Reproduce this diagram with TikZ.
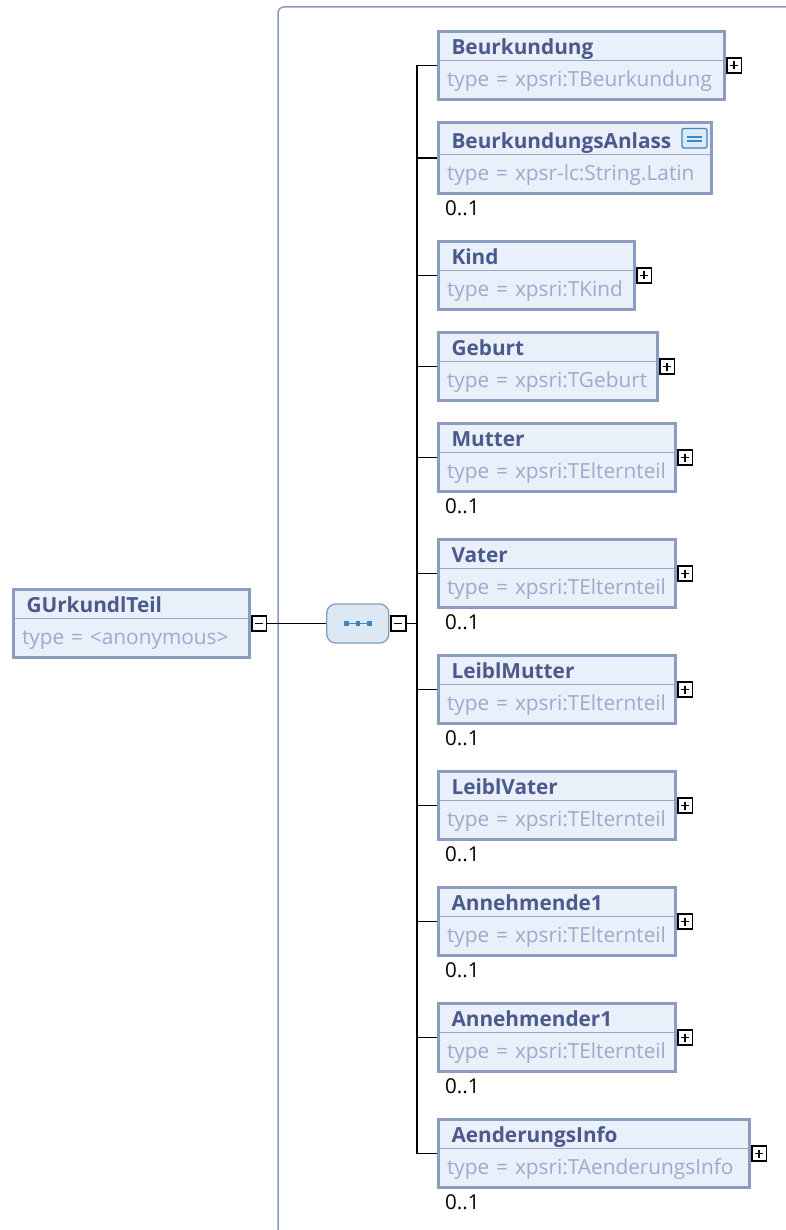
\documentclass[tikz,border=0pt]{standalone}
\usepackage{fontspec}
\setmainfont{Open Sans}
\usetikzlibrary{positioning}
\definecolor{xsBorder}{HTML}{8C9CC0}
\definecolor{xsFill}{HTML}{EAF0FA}
\definecolor{xsTitle}{HTML}{4B5A8C}
\definecolor{xsType}{HTML}{9DAACB}
\definecolor{xsSplit}{HTML}{9AA8C8}
\definecolor{xsSeqFill}{HTML}{DDE8F5}
\definecolor{xsSeqBorder}{HTML}{7F9DC0}
\definecolor{xsIcon}{HTML}{3F86C0}
\definecolor{xsDocFill}{HTML}{DCE9F6}
\newcommand{\eltitle}[1]{\hspace*{4.5pt}{\bfseries\color{xsTitle}#1}}

\begin{document}
\begin{tikzpicture}[
    x=1pt, y=-1pt,
    elem/.style={draw=xsBorder, line width=3pt, fill=xsFill, align=left, inner xsep=8.5pt, inner ysep=8.8pt, text height=14pt, text depth=36.4pt, text=xsType, font=\fontsize{20.8}{32.2}\selectfont,
        path picture={\draw[xsSplit, line width=1.5pt] ([yshift=38.8pt]path picture bounding box.south west) -- ([yshift=38.8pt]path picture bounding box.south east);}},
    expander/.style={draw=black, line width=1.6pt, fill=white, minimum size=14.5pt, inner sep=0pt},
    minus/.style={expander, path picture={\draw[line width=1.6pt] ([xshift=-4pt]path picture bounding box.center) -- ([xshift=4pt]path picture bounding box.center);}},
    plus/.style={expander, path picture={\draw[line width=1.6pt] ([xshift=-4pt]path picture bounding box.center) -- ([xshift=4pt]path picture bounding box.center) ([yshift=-4pt]path picture bounding box.center) -- ([yshift=4pt]path picture bounding box.center);}},
    seq/.style={draw=xsSeqBorder, line width=1.3pt, fill=xsSeqFill, rounded corners=9pt, minimum width=62pt, minimum height=39pt},
    card/.style={anchor=base west, inner sep=0pt, font=\fontsize{20.5}{24}\selectfont},
    conn/.style={draw=black, line width=1.6pt},
    frame/.style={draw=xsBorder, line width=1.5pt, rounded corners=6pt}
]
    \useasboundingbox (0,0) rectangle (785,1230);
    \draw[frame] (278,1240) |- (800,7);

    % root element and its sequence
    \node[elem, text width=219pt, anchor=north west] (root) at (12,588) {\eltitle{GUrkundlTeil}\\type = <anonymous>};
    \node[minus, right=0pt of root] (rootMinus) {};
    \node[seq, right=59pt of rootMinus] (seq) {};
    \node[minus, right=1pt of seq] (seqMinus) {};
    \draw[xsIcon, line width=1.2pt] ([xshift=-11pt]seq.center) -- ([xshift=12pt]seq.center);
    \fill[xsIcon] ([xshift=-13.5pt,yshift=-2pt]seq.center) rectangle ([xshift=-9pt,yshift=2.5pt]seq.center);
    \fill[xsIcon] ([xshift=-2pt,yshift=-2pt]seq.center) rectangle ([xshift=2.5pt,yshift=2.5pt]seq.center);
    \fill[xsIcon] ([xshift=9.5pt,yshift=-2pt]seq.center) rectangle ([xshift=14pt,yshift=2.5pt]seq.center);

    % children of the sequence
    \node[elem, text width=269pt, anchor=north west] (beurk) at (437,30) {\eltitle{Beurkundung}\\type = xpsri:TBeurkundung};
    \node[plus, right=0pt of beurk] (beurkPlus) {};

    \node[elem, text width=256pt, text height=17pt, below=20pt of beurk.south west, anchor=north west] (anlass) {\eltitle{BeurkundungsAnlass}\\type = xpsr-lc:String.Latin};
    \node[card] (anlassCard) at ([xshift=8pt,yshift=-20.5pt]anlass.south west) {0..1};
    \draw[xsIcon, line width=1.3pt, fill=xsDocFill, rounded corners=1.5pt] ([xshift=-31pt,yshift=-7.5pt]anlass.north east) rectangle ([xshift=-6pt,yshift=-27pt]anlass.north east);
    \draw[xsIcon, line width=1.2pt] ([xshift=-26pt,yshift=-16pt]anlass.north east) -- ([xshift=-11pt,yshift=-16pt]anlass.north east) ([xshift=-26pt,yshift=-20pt]anlass.north east) -- ([xshift=-11pt,yshift=-20pt]anlass.north east);

    \node[elem, text width=179pt, below=45pt of anlass.south west, anchor=north west] (kind) {\eltitle{Kind}\\type = xpsri:TKind};
    \node[plus, right=0pt of kind] (kindPlus) {};

    \node[elem, text width=202pt, below=20pt of kind.south west, anchor=north west] (geburt) {\eltitle{Geburt}\\type = xpsri:TGeburt};
    \node[plus, right=0pt of geburt] (geburtPlus) {};

    \node[elem, text width=220pt, below=20pt of geburt.south west, anchor=north west] (mutter) {\eltitle{Mutter}\\type = xpsri:TElternteil};
    \node[plus, right=0pt of mutter] (mutterPlus) {};
    \node[card] (mutterCard) at ([xshift=8pt,yshift=-20.5pt]mutter.south west) {0..1};

    \node[elem, text width=220pt, below=45pt of mutter.south west, anchor=north west] (vater) {\eltitle{Vater}\\type = xpsri:TElternteil};
    \node[plus, right=0pt of vater] (vaterPlus) {};
    \node[card] (vaterCard) at ([xshift=8pt,yshift=-20.5pt]vater.south west) {0..1};

    \node[elem, text width=220pt, below=45pt of vater.south west, anchor=north west] (lmutter) {\eltitle{LeiblMutter}\\type = xpsri:TElternteil};
    \node[plus, right=0pt of lmutter] (lmutterPlus) {};
    \node[card] (lmutterCard) at ([xshift=8pt,yshift=-20.5pt]lmutter.south west) {0..1};

    \node[elem, text width=220pt, below=45pt of lmutter.south west, anchor=north west] (lvater) {\eltitle{LeiblVater}\\type = xpsri:TElternteil};
    \node[plus, right=0pt of lvater] (lvaterPlus) {};
    \node[card] (lvaterCard) at ([xshift=8pt,yshift=-20.5pt]lvater.south west) {0..1};

    \node[elem, text width=220pt, below=45pt of lvater.south west, anchor=north west] (annw) {\eltitle{Annehmende1}\\type = xpsri:TElternteil};
    \node[plus, right=0pt of annw] (annwPlus) {};
    \node[card] (annwCard) at ([xshift=8pt,yshift=-20.5pt]annw.south west) {0..1};

    \node[elem, text width=220pt, below=45pt of annw.south west, anchor=north west] (annm) {\eltitle{Annehmender1}\\type = xpsri:TElternteil};
    \node[plus, right=0pt of annm] (annmPlus) {};
    \node[card] (annmCard) at ([xshift=8pt,yshift=-20.5pt]annm.south west) {0..1};

    \node[elem, text width=294pt, below=45pt of annm.south west, anchor=north west] (aend) {\eltitle{AenderungsInfo}\\type = xpsri:TAenderungsInfo};
    \node[plus, right=0pt of aend] (aendPlus) {};
    \node[card] (aendCard) at ([xshift=8pt,yshift=-20.5pt]aend.south west) {0..1};

    % connectors
    \coordinate (bus) at (417,0);
    \draw[conn] (rootMinus.east) -- (rootMinus.east -| seq.west);
    \draw[conn] (seqMinus.east) -- (seqMinus.east -| bus);
    \draw[conn] (beurk.west) -- (beurk.west -| bus) -- (aend.west -| bus) -- (aend.west);
    \draw[conn] (anlass.west -| bus) -- (anlass.west);
    \draw[conn] (kind.west -| bus) -- (kind.west);
    \draw[conn] (geburt.west -| bus) -- (geburt.west);
    \draw[conn] (mutter.west -| bus) -- (mutter.west);
    \draw[conn] (vater.west -| bus) -- (vater.west);
    \draw[conn] (lmutter.west -| bus) -- (lmutter.west);
    \draw[conn] (lvater.west -| bus) -- (lvater.west);
    \draw[conn] (annw.west -| bus) -- (annw.west);
    \draw[conn] (annm.west -| bus) -- (annm.west);
\end{tikzpicture}
\end{document}
